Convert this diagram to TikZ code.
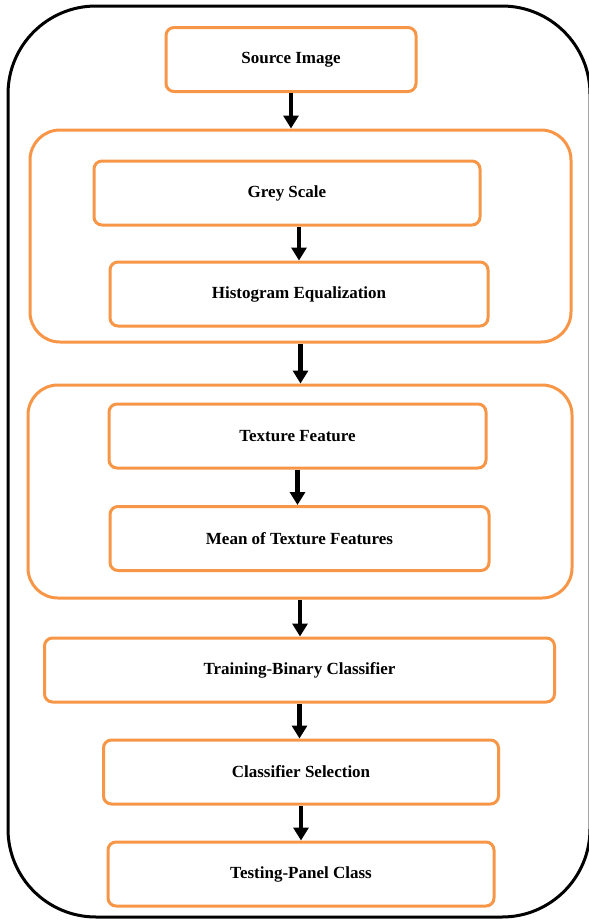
\documentclass[tikz,border=0pt]{standalone}
\usepackage{fontspec}
\setmainfont{Liberation Serif}
\usetikzlibrary{shapes.geometric, arrows.meta}
\definecolor{boxorange}{HTML}{F79646}
\tikzstyle{process} = [rectangle, rounded corners=4pt, minimum height=32pt, text centered, draw=boxorange, line width=1.5pt, font=\fontsize{8.5}{10}\selectfont\bfseries]
\tikzstyle{group} = [rectangle, rounded corners=15pt, inner sep=0pt, draw=boxorange, line width=1.5pt]
\tikzstyle{frame} = [draw=black, line width=1.5pt, rounded corners=44pt]
\tikzstyle{arrow} = [line width=2.2pt, -{Triangle[width=7.5pt,length=6.5pt]}]

\begin{document}
\begin{tikzpicture}[x=0.5pt, y=-0.5pt, node distance=51pt]
	\useasboundingbox (0,0) rectangle (589,922);
	\draw [frame] (8,6) rectangle (590,917);
	% boxes
	\node (src) [process, minimum width=125pt] at (291,59.5) {Source Image};
	\node (grey) [process, minimum width=193pt, below of=src, yshift=-15.75pt, xshift=-2pt] {Grey Scale};
	\node (hist) [process, minimum width=189pt, below of=grey, yshift=0.5pt, xshift=6pt] {Histogram Equalization};
	\node (tex) [process, minimum width=188.5pt, below of=hist, yshift=-20pt, xshift=-0.75pt] {Texture Feature};
	\node (mean) [process, minimum width=189.5pt, below of=tex, yshift=-0.25pt, xshift=1pt] {Mean of Texture Features};
	\node (train) [process, minimum width=255pt, below of=mean, yshift=-14.75pt] {Training-Binary Classifier};
	\node (sel) [process, minimum width=197.5pt, below of=train, xshift=0.75pt] {Classifier Selection};
	\node (test) [process, minimum width=193pt, below of=sel] {Testing-Panel Class};
	% groups
	\node (grp1) [group, minimum width=270.5pt, minimum height=106pt] at (300.5,236) {};
	\node (grp2) [group, minimum width=272pt, minimum height=106.5pt] at (300,491.5) {};
	% arrows
	\draw [arrow] (src.south) -- (src.south |- grp1.north);
	\draw [arrow] (hist.north |- grey.south) -- (hist.north);
	\draw [arrow] (grp1.south) -- (grp1.south |- grp2.north);
	\draw [arrow] (tex.south) -- (tex.south |- mean.north);
	\draw [arrow] (grp2.south) -- (grp2.south |- train.north);
	\draw [arrow] (train.south) -- (train.south |- sel.north);
	\draw [arrow] (sel.south) -- (sel.south |- test.north);
\end{tikzpicture}
\end{document}
